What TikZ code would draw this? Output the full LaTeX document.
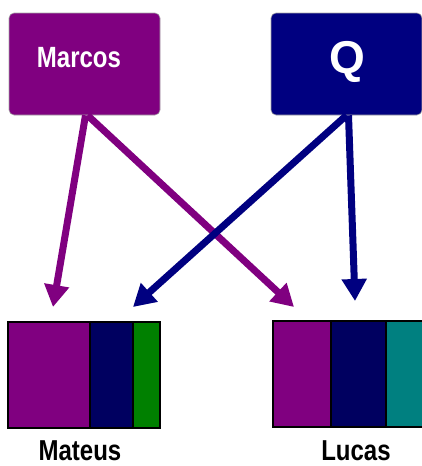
\documentclass[tikz,border=0pt]{standalone}
\usepackage{fontspec}
\setmainfont{Liberation Sans}
\usetikzlibrary{arrows.meta}
\definecolor{mpurple}{HTML}{800080}
\definecolor{mnavy}{HTML}{000080}
\definecolor{bnavy}{HTML}{000060}
\definecolor{mgreen}{HTML}{008000}
\definecolor{mteal}{HTML}{008080}
\tikzset{
  topbox/.style={draw=gray!70, line width=0.6pt, rounded corners=5pt, minimum width=151pt, minimum height=102pt, inner sep=0pt, text=white},
  seg/.style={draw=black, line width=2pt, inner sep=0pt, minimum height=106pt},
  arr/.style={line width=7pt, -{Triangle[length=22pt,width=24pt]}},
  lbl/.style={font=\bfseries\fontsize{24}{24}\selectfont, inner sep=0pt}
}
\begin{document}
\begin{tikzpicture}[x=1pt,y=-1pt]
\useasboundingbox (0,0) rectangle (422,466);
\clip (0,0) rectangle (422,466);
% top boxes
\node[topbox, fill=mpurple] (marcos) at (84.5,64) {};
\node[lbl, text=white] (marcostxt) at (79,58) {\scalebox{1}[1.22]{Marcos}};
\node[topbox, fill=mnavy] (q) at (346.5,64) {};
\node[lbl, text=white, font=\bfseries\fontsize{46}{46}\selectfont] (qtxt) at (347,62) {Q};
% bottom bars
\node[seg, fill=mpurple, minimum width=82pt] (mA) at (49,375) {};
\node[seg, fill=bnavy, minimum width=43pt] (mB) at (111.5,375) {};
\node[seg, fill=mgreen, minimum width=27pt] (mC) at (146.5,375) {};
\node[seg, fill=mpurple, minimum width=58pt] (lA) at (302,373.5) {};
\node[seg, fill=bnavy, minimum width=55pt] (lB) at (358.5,373.5) {};
\node[seg, fill=mteal, minimum width=54pt] (lC) at (413,373.5) {};
% labels
\node[lbl, anchor=base] (mateus) at (80,460) {\scalebox{1}[1.2]{Mateus}};
\node[lbl, anchor=base] (lucas) at (356,460) {\scalebox{1}[1.2]{Lucas}};
% arrow tips
\coordinate (t1) at (53,307);
\coordinate (t2) at (294,307);
\coordinate (t3) at (133,307);
\coordinate (t4) at (355,301);
\draw[arr, mpurple] ([xshift=1pt]marcos.south) -- (t1);
\draw[arr, mpurple] ([xshift=3pt]marcos.south) -- (t2);
\draw[arr, mnavy] (q.south) -- (t3);
\draw[arr, mnavy] ([xshift=2pt]q.south) -- (t4);
\end{tikzpicture}
\end{document}
